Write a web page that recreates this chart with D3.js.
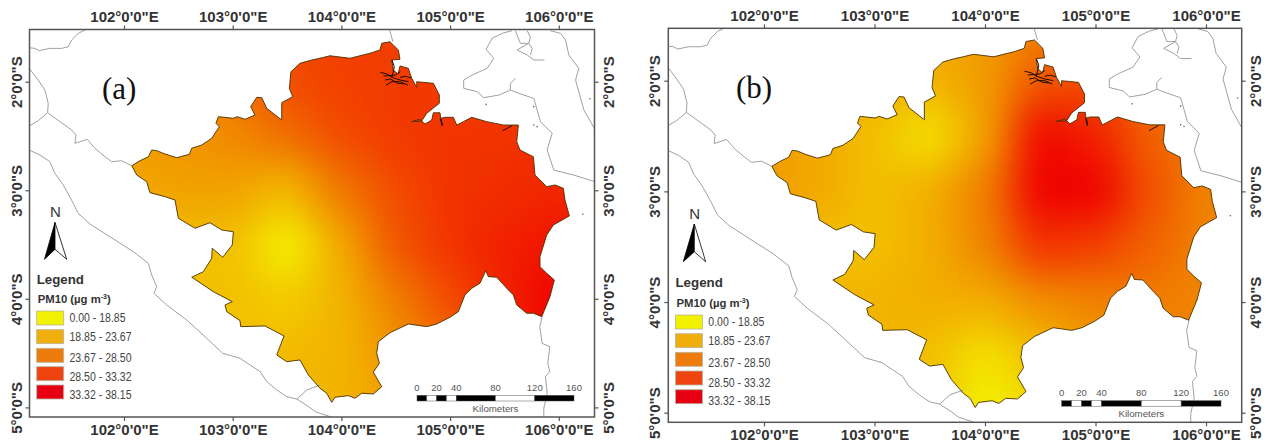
<!DOCTYPE html>
<html>
<head>
<meta charset="utf-8">
<script src="https://cdn.jsdelivr.net/npm/d3@7"></script>
<style>
    body { margin: 0; background: #fff; }
    svg { display: block; }
    text { font-family: "Liberation Sans", Arial, sans-serif; }
</style>
</head>
<body>
<div id="chart"></div>
<script>
const lonTicks = [102, 103, 104, 105, 106];
const latTicks = [2, 3, 4, 5];
const legendLabels = ['0.00 - 18.85', '18.85 - 23.67', '23.67 - 28.50', '28.50 - 33.32', '33.32 - 38.15'];
const legendColors = ['#f2f200', '#f0ae0c', '#ee7c0c', '#ee4410', '#e60012'];
const scaleStops = [0, 10, 20, 30, 40, 80, 120, 160];
const scaleLabels = [0, 20, 40, 80, 120, 160];

// PM10 at half degree steps, rows are latitude (deg S)
const gridLons = [101.5, 102, 102.5, 103, 103.5, 104, 104.5, 105, 105.5, 106, 106.5];
const gridLats = [1.5, 2, 2.5, 3, 3.5, 4, 4.5, 5, 5.5];
const gridA = [
    [24, 24, 25, 27, 30, 31, 31, 31, 31, 32, 32],
    [23, 23, 24, 26.5, 30, 31, 31.5, 31.5, 31.5, 32, 32],
    [23, 23, 23.5, 24.5, 27, 30, 31.5, 32, 32, 32.5, 33],
    [22, 22, 22.5, 22.5, 20.5, 26, 30, 32, 32.5, 33, 33],
    [20, 20, 20, 20, 15, 22, 29, 32, 33.5, 34.5, 35],
    [20, 20, 20, 20, 19, 21, 25.5, 30, 33.5, 37.5, 38],
    [20, 20, 20, 20, 20.5, 21, 23.5, 27, 32, 36, 38],
    [20, 20, 20, 20, 21, 21, 23, 25, 30, 34, 35],
    [20, 20, 20, 20, 21, 21, 23, 25, 30, 34, 35]
];
const gridB = [
    [23, 23, 23, 23, 22.5, 23, 25, 27, 26, 26, 26],
    [22, 22, 22, 21.5, 21, 23, 29, 30, 27, 26, 26],
    [23, 23, 22, 20, 17, 22.5, 35.5, 33.5, 28, 26, 25],
    [23, 23, 22, 20, 21.5, 25.5, 37, 36, 29.5, 25, 25],
    [21, 21, 20, 20, 21.5, 25, 32, 31, 28, 25, 25],
    [21, 21, 21, 21, 21.5, 21.5, 24, 25, 25.5, 25, 25],
    [21, 21, 21, 21, 20, 17, 20, 23, 25, 25, 25],
    [21, 21, 21, 21, 20, 15, 18, 21, 24, 25, 25],
    [21, 21, 21, 21, 20, 15, 18, 21, 24, 25, 25]
];

// province outline, lon / lat (deg S)
const boundary = [
    [102.071, 2.774], [102.147, 2.728], [102.224, 2.691], [102.255, 2.629], [102.301, 2.635], [102.377, 2.666],
    [102.485, 2.700], [102.601, 2.669], [102.623, 2.613], [102.715, 2.583], [102.807, 2.521], [102.877, 2.414],
    [102.846, 2.383], [102.868, 2.322], [103.006, 2.337], [103.042, 2.322], [103.113, 2.346], [103.205, 2.307],
    [103.166, 2.230], [103.221, 2.144], [103.267, 2.147], [103.313, 2.245], [103.451, 2.353], [103.451, 2.193],
    [103.552, 2.138], [103.521, 2.061], [103.536, 1.908], [103.619, 1.831], [103.727, 1.800], [103.803, 1.784],
    [103.895, 1.761], [104.079, 1.784], [104.263, 1.738], [104.355, 1.708], [104.371, 1.646], [104.447, 1.632],
    [104.524, 1.708], [104.539, 1.794], [104.463, 1.800], [104.478, 1.892], [104.521, 1.929], [104.539, 1.855],
    [104.616, 1.877], [104.647, 1.969], [104.693, 2.052], [104.693, 2.000], [104.846, 2.015], [104.901, 2.122],
    [104.901, 2.199], [104.785, 2.291], [104.739, 2.362], [104.647, 2.368], [104.723, 2.346], [104.769, 2.390],
    [104.831, 2.353], [104.846, 2.286], [104.907, 2.286], [104.914, 2.337], [104.953, 2.328], [105.030, 2.328],
    [105.061, 2.399], [105.122, 2.368], [105.199, 2.328], [105.337, 2.368], [105.490, 2.399], [105.628, 2.399],
    [105.613, 2.553], [105.643, 2.629], [105.766, 2.691], [105.781, 2.859], [105.889, 2.967], [105.965, 2.951],
    [106.042, 2.982], [106.057, 3.090], [106.097, 3.237], [105.950, 3.320], [105.889, 3.412], [105.827, 3.612],
    [105.827, 3.704], [105.889, 3.765], [105.959, 3.826], [105.919, 3.980], [105.843, 4.164], [105.766, 4.133],
    [105.705, 4.133], [105.613, 4.057], [105.582, 3.965], [105.521, 3.903], [105.429, 3.801], [105.352, 3.796],
    [105.328, 3.741], [105.275, 3.857], [105.199, 3.903], [105.137, 3.964], [105.076, 4.118], [104.999, 4.170],
    [104.877, 4.232], [104.785, 4.256], [104.616, 4.232], [104.447, 4.312], [104.340, 4.395], [104.325, 4.501],
    [104.349, 4.593], [104.294, 4.676], [104.371, 4.809], [104.294, 4.876], [104.187, 4.870], [104.125, 4.916],
    [104.064, 4.892], [103.941, 4.907], [103.911, 4.953], [103.865, 4.870], [103.803, 4.824], [103.696, 4.701],
    [103.619, 4.563], [103.497, 4.579], [103.405, 4.517], [103.472, 4.342], [103.297, 4.250], [103.074, 4.256],
    [103.067, 4.201], [102.945, 4.118], [102.929, 4.057], [102.996, 4.026], [102.822, 3.934], [102.623, 3.801],
    [102.730, 3.750], [102.807, 3.627], [102.812, 3.534], [102.908, 3.617], [102.996, 3.504], [103.006, 3.382],
    [102.899, 3.366], [102.791, 3.299], [102.653, 3.350], [102.500, 3.258], [102.469, 3.090], [102.377, 3.059],
    [102.239, 3.022], [102.209, 2.921], [102.117, 2.859]
];

// neighbouring coast and province lines
const greyLines = [
    [[101.128, 1.687], [101.180, 1.693], [101.220, 1.714], [101.318, 1.693], [101.426, 1.693], [101.487, 1.678], [101.518, 1.616], [101.579, 1.555], [101.641, 1.524]],
    [[101.128, 1.877], [101.211, 1.985], [101.272, 2.077], [101.303, 2.200], [101.297, 2.286]],
    [[101.128, 2.408], [101.211, 2.359], [101.297, 2.286], [101.411, 2.368], [101.518, 2.445], [101.558, 2.491], [101.549, 2.568], [101.662, 2.531], [101.733, 2.614], [101.825, 2.691], [101.886, 2.737], [101.979, 2.728], [102.071, 2.774]],
    [[101.128, 2.629], [101.226, 2.675], [101.318, 2.737], [101.364, 2.844], [101.441, 2.952], [101.518, 3.090], [101.579, 3.213], [101.687, 3.311], [101.917, 3.458], [102.086, 3.566], [102.224, 3.673], [102.255, 3.781], [102.301, 3.888], [102.276, 3.949], [102.393, 4.057], [102.577, 4.195], [102.761, 4.364], [102.909, 4.502], [103.068, 4.548], [103.253, 4.671], [103.314, 4.763], [103.406, 4.840], [103.498, 4.901], [103.590, 4.923], [103.698, 4.993], [103.759, 5.039], [103.805, 5.055], [103.897, 5.085], [103.928, 5.116]],
    [[103.590, 4.923], [103.682, 4.840], [103.805, 4.794]],
    [[105.847, 4.164], [105.825, 4.256], [105.847, 4.410], [105.917, 4.441], [105.899, 4.594], [105.917, 4.671], [105.877, 4.717], [105.893, 4.870], [105.862, 5.009], [105.862, 5.085]],
    [[104.444, 1.524], [104.474, 1.632]],
    [[105.570, 1.530], [105.478, 1.555], [105.386, 1.601], [105.331, 1.702], [105.402, 1.785], [105.340, 1.877], [105.202, 1.939], [105.125, 1.985], [105.125, 2.061], [105.248, 2.092], [105.309, 2.147], [105.448, 2.123], [105.555, 2.077], [105.632, 2.107], [105.770, 2.154], [105.801, 2.261], [105.831, 2.368], [105.939, 2.476], [105.893, 2.629], [105.954, 2.814], [106.138, 2.860], [106.332, 2.921]],
    [[105.601, 1.969], [105.555, 2.015], [105.555, 2.077]],
    [[105.601, 1.530], [105.647, 1.647], [105.724, 1.647], [105.616, 1.708], [105.709, 1.754], [105.770, 1.800], [105.868, 1.800]],
    [[105.724, 1.647], [105.755, 1.693], [105.739, 1.754]],
    [[105.709, 1.530], [105.739, 1.592], [105.724, 1.647]],
    [[105.923, 1.530], [106.016, 1.555], [106.062, 1.616], [106.092, 1.754], [106.184, 1.877], [106.154, 1.985], [106.231, 2.261], [106.332, 2.439]]
];
const islands = [[106.286, 2.157], [105.331, 2.209], [105.770, 2.230], [106.221, 3.221], [105.770, 2.399], [105.801, 2.414]];

// dark river mouths on the north coast
const streaks = [
    [[104.358, 1.914], [104.419, 1.929], [104.465, 1.960], [104.542, 1.985], [104.619, 2.000]],
    [[104.410, 2.031], [104.465, 2.000], [104.542, 2.000], [104.610, 2.031]],
    [[104.465, 1.800], [104.487, 1.862], [104.465, 1.960]],
    [[104.388, 1.948], [104.496, 1.939], [104.542, 1.908]],
    [[104.400, 1.985], [104.450, 1.975], [104.520, 2.015], [104.585, 2.020]],
    [[104.540, 1.960], [104.590, 1.950], [104.640, 1.965]],
    [[104.910, 2.338], [104.926, 2.408]],
    [[104.918, 2.345], [104.930, 2.400]],
    [[105.484, 2.451], [105.570, 2.405]]
];

const panels = [
    {
        id: 'a', label: '(a)', grid: gridA,
        frame: { left: 29.5, right: 594.5, top: 29.5, bottom: 417 },
        xRange: [124, 558.8], yRange: [81.7, 407.4],
        topBase: 21.5, bottomBase: 435, leftBase: 21.5, rightBase: 613.5,
        labelPos: [102, 99],
        north: { n: [50, 217], tip: [55, 222.5], left: [44.5, 259.3], mid: [55, 249.3], right: [66.7, 259.3] },
        legend: {
            x: 36.7, titleY: 284.3, subY: 303.3, labelX: 69.5,
            rowY: [311, 329.7, 348.3, 366.7, 385], baseY: [321.7, 341, 362.3, 381, 399]
        },
        bar: { x0: 417, x1: 574, y: 395.3, h: 5.7, labelY: 391, nameY: 411.7 }
    },
    {
        id: 'b', label: '(b)', grid: gridB,
        frame: { left: 668.3, right: 1241.7, top: 28.3, bottom: 422.3 },
        xRange: [764, 1206], yRange: [80.7, 412.7],
        topBase: 20.5, bottomBase: 440.5, leftBase: 660, rightBase: 1261,
        labelPos: [736, 98],
        north: { n: [689.3, 219.3], tip: [694.3, 224], left: [683.3, 261.7], mid: [694.3, 251.7], right: [705.7, 261.7] },
        legend: {
            x: 675.5, titleY: 287.3, subY: 307.3, labelX: 708.3,
            rowY: [315, 333.7, 352.3, 371, 389.7], baseY: [325.7, 345, 366.7, 386.7, 405]
        },
        bar: { x0: 1061.7, x1: 1221, y: 400.7, h: 5.5, labelY: 396, nameY: 416.7 }
    }
];

const pm10Color = d3.scaleLinear()
    .domain([15.5, 21, 26, 31, 36])
    .range(['#f4f400', '#f2b400', '#f07800', '#f24000', '#f00000'])
    .clamp(true);

const svg = d3.select('#chart').append('svg')
    .attr('width', 1269)
    .attr('height', 443);

const drawPanel = (p) => {
    const x = d3.scaleLinear().domain([102, 106]).range(p.xRange);
    const y = d3.scaleLinear().domain([2, 5]).range(p.yRange);
    const line = d3.line().x(d => x(d[0])).y(d => y(d[1]));
    const f = p.frame;
    const g = svg.append('g').attr('class', 'panel-' + p.id);

    const defs = g.append('defs');
    defs.append('clipPath').attr('id', 'shape-' + p.id)
        .append('path').attr('d', line(boundary) + 'Z');
    defs.append('clipPath').attr('id', 'frame-' + p.id)
        .append('rect')
        .attr('x', f.left).attr('y', f.top)
        .attr('width', f.right - f.left).attr('height', f.bottom - f.top);
    defs.append('filter').attr('id', 'soft-' + p.id)
        .attr('filterUnits', 'userSpaceOnUse')
        .attr('x', f.left - 100).attr('y', f.top - 100)
        .attr('width', f.right - f.left + 200).attr('height', f.bottom - f.top + 200)
        .attr('color-interpolation-filters', 'sRGB')
        .append('feGaussianBlur').attr('stdDeviation', 21);

    // surface: one cell per grid value, blurred together and cut to the outline
    const cells = [];
    p.grid.forEach((row, r) => row.forEach((v, c) => cells.push({ lon: gridLons[c], lat: gridLats[r], v })));
    g.append('g').attr('clip-path', `url(#shape-${p.id})`)
        .append('g').attr('filter', `url(#soft-${p.id})`)
        .selectAll('rect')
        .data(cells)
        .enter().append('rect')
        .attr('x', d => x(d.lon - 0.25))
        .attr('y', d => y(d.lat - 0.25))
        .attr('width', d => x(d.lon + 0.25) - x(d.lon - 0.25) + 0.5)
        .attr('height', d => y(d.lat + 0.25) - y(d.lat - 0.25) + 0.5)
        .style('fill', d => pm10Color(d.v));

    const map = g.append('g').attr('clip-path', `url(#frame-${p.id})`);
    map.selectAll('.grey')
        .data(greyLines)
        .enter().append('path')
        .attr('class', 'grey')
        .attr('d', line)
        .style('fill', 'none')
        .style('stroke', '#a0a0a0')
        .style('stroke-width', 1);
    map.selectAll('.island')
        .data(islands)
        .enter().append('circle')
        .attr('class', 'island')
        .attr('cx', d => x(d[0]))
        .attr('cy', d => y(d[1]))
        .attr('r', 0.8)
        .style('fill', '#666');
    map.append('path')
        .attr('d', line(boundary) + 'Z')
        .style('fill', 'none')
        .style('stroke', '#4a3000')
        .style('stroke-width', 0.9);
    map.selectAll('.streak')
        .data(streaks)
        .enter().append('path')
        .attr('class', 'streak')
        .attr('d', line)
        .style('fill', 'none')
        .style('stroke', '#1c0c00')
        .style('stroke-width', 1);

    // frame and the four graticule axes
    g.append('rect')
        .attr('x', f.left).attr('y', f.top)
        .attr('width', f.right - f.left).attr('height', f.bottom - f.top)
        .style('fill', 'none')
        .style('stroke', '#555')
        .style('stroke-width', 1.5);

    const lonFormat = d => `${d}°0'0"E`;
    const latFormat = d => `${d}°0'0"S`;
    const styleAxis = (sel) => {
        sel.select('.domain').remove();
        sel.selectAll('line').style('stroke', '#555').style('stroke-width', 1.2);
        sel.selectAll('text')
            .style('font-family', '"Liberation Sans", Arial, sans-serif')
            .style('font-size', '15px')
            .style('font-weight', 'bold')
            .style('fill', '#333');
    };

    const top = g.append('g').attr('transform', `translate(0,${f.top})`)
        .call(d3.axisTop(x).tickValues(lonTicks).tickSize(4).tickFormat(lonFormat));
    top.selectAll('text').attr('y', p.topBase - f.top).attr('dy', 0);
    styleAxis(top);

    const bottom = g.append('g').attr('transform', `translate(0,${f.bottom})`)
        .call(d3.axisBottom(x).tickValues(lonTicks).tickSize(4).tickFormat(lonFormat));
    bottom.selectAll('text').attr('y', p.bottomBase - f.bottom).attr('dy', 0);
    styleAxis(bottom);

    const left = g.append('g').attr('transform', `translate(${f.left},0)`)
        .call(d3.axisLeft(y).tickValues(latTicks).tickSize(4).tickFormat(latFormat));
    left.selectAll('text')
        .attr('x', 0).attr('y', 0).attr('dy', 0)
        .attr('text-anchor', 'middle')
        .attr('transform', `translate(${p.leftBase - f.left},0) rotate(-90)`);
    styleAxis(left);

    const right = g.append('g').attr('transform', `translate(${f.right},0)`)
        .call(d3.axisRight(y).tickValues(latTicks).tickSize(4).tickFormat(latFormat));
    right.selectAll('text')
        .attr('x', 0).attr('y', 0).attr('dy', 0)
        .attr('text-anchor', 'middle')
        .attr('transform', `translate(${p.rightBase - f.right},0) rotate(-90)`);
    styleAxis(right);

    // (a) / (b)
    g.append('text')
        .attr('x', p.labelPos[0])
        .attr('y', p.labelPos[1])
        .style('font-family', '"Liberation Serif", "Times New Roman", serif')
        .style('font-size', '31px')
        .style('fill', '#111')
        .text(p.label);

    // north arrow
    const n = p.north;
    g.append('text')
        .attr('x', n.n[0]).attr('y', n.n[1])
        .style('font-size', '15px')
        .style('fill', '#333')
        .text('N');
    g.append('path')
        .attr('d', d3.line()([n.tip, n.left, n.mid]) + 'Z')
        .style('fill', '#000')
        .style('stroke', '#000')
        .style('stroke-width', 0.8);
    g.append('path')
        .attr('d', d3.line()([n.tip, n.right, n.mid]) + 'Z')
        .style('fill', '#fff')
        .style('stroke', '#000')
        .style('stroke-width', 0.8);

    // legend
    const lg = p.legend;
    g.append('text')
        .attr('x', lg.x).attr('y', lg.titleY)
        .style('font-size', '13.3px')
        .style('font-weight', 'bold')
        .style('fill', '#333')
        .text('Legend');
    const sub = g.append('text')
        .attr('x', lg.x + 1).attr('y', lg.subY)
        .style('font-size', '11.3px')
        .style('font-weight', 'bold')
        .style('fill', '#333');
    sub.append('tspan').text('PM10 (µg m');
    sub.append('tspan').attr('dy', -4).style('font-size', '7px').text('-3');
    sub.append('tspan').attr('dy', 4).text(')');

    g.selectAll('.swatch')
        .data(legendColors)
        .enter().append('rect')
        .attr('class', 'swatch')
        .attr('x', lg.x)
        .attr('y', (d, i) => lg.rowY[i])
        .attr('width', 27)
        .attr('height', 14)
        .style('fill', d => d)
        .style('stroke', '#b5b5a0')
        .style('stroke-width', 0.8);
    g.selectAll('.swatch-label')
        .data(legendLabels)
        .enter().append('text')
        .attr('class', 'swatch-label')
        .attr('x', lg.labelX)
        .attr('y', (d, i) => lg.baseY[i])
        .attr('textLength', (d, i) => i === 0 ? 56 : 62)
        .attr('lengthAdjust', 'spacingAndGlyphs')
        .style('font-size', '12.5px')
        .style('fill', '#444')
        .text(d => d);

    // scale bar
    const km = d3.scaleLinear().domain([0, 160]).range([p.bar.x0, p.bar.x1]);
    g.selectAll('.bar-seg')
        .data(d3.pairs(scaleStops))
        .enter().append('rect')
        .attr('class', 'bar-seg')
        .attr('x', d => km(d[0]))
        .attr('y', p.bar.y)
        .attr('width', d => km(d[1]) - km(d[0]))
        .attr('height', p.bar.h)
        .style('fill', (d, i) => i % 2 === 0 ? '#000' : '#fff')
        .style('stroke', '#555')
        .style('stroke-width', 0.5);
    g.selectAll('.bar-label')
        .data(scaleLabels)
        .enter().append('text')
        .attr('class', 'bar-label')
        .attr('x', d => km(d))
        .attr('y', p.bar.labelY)
        .attr('text-anchor', 'middle')
        .style('font-size', '9.5px')
        .style('fill', '#555')
        .text(d => d);
    g.append('text')
        .attr('x', km(80))
        .attr('y', p.bar.nameY)
        .attr('text-anchor', 'middle')
        .style('font-size', '9.7px')
        .style('fill', '#555')
        .text('Kilometers');
};

panels.forEach(drawPanel);
</script>
</body>
</html>
